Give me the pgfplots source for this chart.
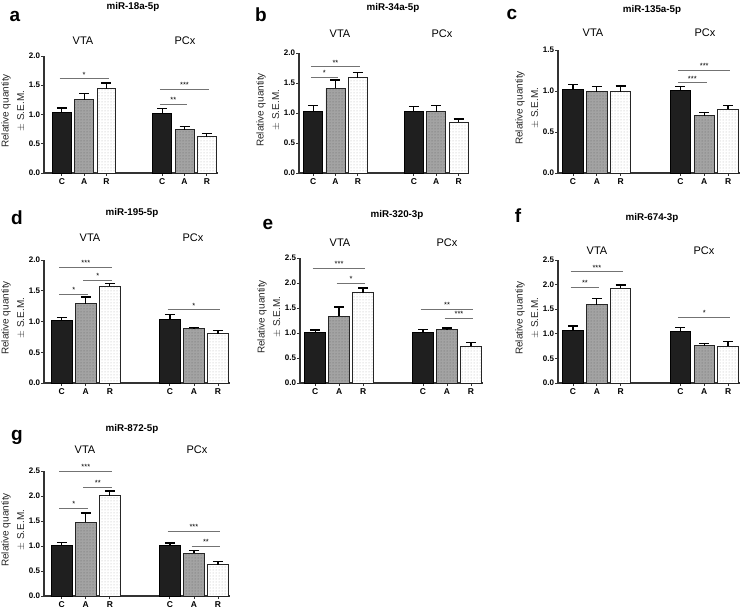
\documentclass[border=0pt]{standalone}
\usepackage{fontspec}
\setmainfont{Liberation Sans}
\usepackage{pgfplots}
\pgfplotsset{compat=1.18}
\usetikzlibrary{patterns}

\pgfplotsset{
  mirbar/.style={
    scale only axis, anchor=south west,
    axis x line*=bottom, axis y line*=left,
    xmin=-0.63, xmax=7.0, ymin=0,
    xtick={0,1,2,4.5,5.5,6.5}, xticklabels={C,A,R,C,A,R},
    tick align=outside, major tick length=3pt,
    axis line style={line width=1.2pt, black!80},
    tick style={line width=0.9pt, black!80},
    xticklabel style={font=\bfseries\fontsize{8.5}{9}\selectfont, yshift=1pt},
    yticklabel style={font=\bfseries\fontsize{8}{9}\selectfont, inner xsep=0.8pt, /pgf/number format/.cd, fixed, fixed zerofill, precision=1},
    /pgf/number format/assume math mode=true,
    clip=false,
  },
  ebars/.style={
    error bars/y dir=plus, error bars/y explicit,
    error bars/error bar style={line width=1.2pt, black},
    error bars/error mark options={rotate=90, mark size=5pt, line width=1.2pt, black},
  },
  cbar/.style={ybar, bar width=0.85, bar shift=0pt, draw=black, line width=0.9pt, fill=black!88, ebars},
  abar/.style={ybar, bar width=0.85, bar shift=0pt, draw=black!85, line width=0.9pt, fill=black!36,
    postaction={pattern=dots, pattern color=black!60}, ebars},
  rbar/.style={ybar, bar width=0.85, bar shift=0pt, draw=black!85, line width=0.9pt, fill=white,
    postaction={pattern=dots, pattern color=black!30}, ebars},
}
\tikzset{sigline/.style={line width=0.8pt, black!55}}
\newcommand{\sig}[4]{\draw[sigline] (axis cs:#1-0.1,#3) -- (axis cs:#2+0.1,#3) node[midway, above, inner sep=1.2pt, black, font=\fontsize{7.5}{7.5}\selectfont] {#4};}
\newcommand{\ylab}[3]{%
  \node[rotate=90, font=\fontsize{10}{10}\selectfont, black!85] at (#1pt,-#3pt) {Relative quantity};
  \node[rotate=90, font=\fontsize{10}{10}\selectfont, black!85] at (#2pt,-#3pt) {$\pm$ S.E.M.};}
\newcommand{\heads}[9]{%
  \node[anchor=base, font=\bfseries\fontsize{19}{19}\selectfont] at (#1pt,-#2pt) {#3};
  \node[anchor=base, font=\bfseries\fontsize{9.8}{10}\selectfont] at (#4pt,-#5pt) {#6};
  \node[anchor=base, font=\fontsize{11}{11}\selectfont] at (#7pt,-#8pt) {VTA};
  \node[anchor=base, font=\fontsize{11}{11}\selectfont] at (#9pt,-#8pt) {PCx};}

\begin{document}
\begin{tikzpicture}
\useasboundingbox (0,0) rectangle (746pt,-609pt);

% ---------- a ----------
\heads{15}{22}{a}{133}{10}{miR-18a-5p}{83}{45}{185}
\ylab{6}{21}{111}
\begin{axis}[mirbar, at={(44pt,-173pt)}, width=174pt, height=117pt, xmin=-0.8, xmax=7.0, ymax=2.0, ytick={0,0.5,1,1.5,2}]
\addplot[cbar] coordinates {(0,1.03) +- (0,0.08) (4.5,1.02) +- (0,0.08)};
\addplot[abar] coordinates {(1,1.25) +- (0,0.11) (5.5,0.74) +- (0,0.05)};
\addplot[rbar] coordinates {(2,1.44) +- (0,0.10) (6.5,0.62) +- (0,0.05)};
\sig{0}{2}{1.61}{*}
\sig{4.5}{6.5}{1.43}{***}
\sig{4.5}{5.5}{1.18}{**}
\end{axis}

% ---------- b ----------
\heads{261}{22}{b}{393}{11}{miR-34a-5p}{340}{38}{442}
\ylab{261}{276}{110}
\begin{axis}[mirbar, at={(299pt,-173pt)}, width=169pt, height=120pt, xmin=-0.63, xmax=6.92, ymax=2.0, ytick={0,0.5,1,1.5,2}]
\addplot[cbar] coordinates {(0,1.03) +- (0,0.09) (4.5,1.03) +- (0,0.08)};
\addplot[abar] coordinates {(1,1.41) +- (0,0.14) (5.5,1.02) +- (0,0.10)};
\addplot[rbar] coordinates {(2,1.59) +- (0,0.08) (6.5,0.85) +- (0,0.05)};
\sig{0}{2}{1.77}{**}
\sig{0}{1}{1.60}{*}
\end{axis}

% ---------- c ----------
\heads{512}{20}{c}{652}{13}{miR-135a-5p}{593}{37}{705}
\ylab{520}{535}{108}
\begin{axis}[mirbar, at={(558pt,-173pt)}, width=182pt, height=123pt, ymax=1.5, ytick={0,0.5,1,1.5}]
\addplot[cbar] coordinates {(0,1.02) +- (0,0.06) (4.5,1.01) +- (0,0.04)};
\addplot[abar] coordinates {(1,0.99) +- (0,0.06) (5.5,0.70) +- (0,0.04)};
\addplot[rbar] coordinates {(2,0.99) +- (0,0.07) (6.5,0.78) +- (0,0.04)};
\sig{4.5}{6.5}{1.25}{***}
\sig{4.5}{5.5}{1.10}{***}
\end{axis}

% ---------- d ----------
\heads{17}{225}{d}{132}{216}{miR-195-5p}{90}{242}{193}
\ylab{6}{21}{318}
\begin{axis}[mirbar, at={(44pt,-383pt)}, width=186pt, height=123pt, xmin=-0.74, xmax=7.0, ymax=2.0, ytick={0,0.5,1,1.5,2}]
\addplot[cbar] coordinates {(0,1.01) +- (0,0.05) (4.5,1.03) +- (0,0.08)};
\addplot[abar] coordinates {(1,1.29) +- (0,0.11) (5.5,0.88) +- (0,0.02)};
\addplot[rbar] coordinates {(2,1.57) +- (0,0.05) (6.5,0.80) +- (0,0.06)};
\sig{0}{2}{1.88}{***}
\sig{1}{2}{1.67}{*}
\sig{0}{1}{1.44}{*}
\sig{4.5}{6.5}{1.19}{*}
\end{axis}

% ---------- e ----------
\heads{268}{230}{e}{397}{218}{miR-320-3p}{340}{247}{447}
\ylab{262}{277}{317}
\begin{axis}[mirbar, at={(300pt,-383pt)}, width=183pt, height=125pt, ymax=2.5, ytick={0,0.5,1,1.5,2,2.5}]
\addplot[cbar] coordinates {(0,1.01) +- (0,0.05) (4.5,1.01) +- (0,0.06)};
\addplot[abar] coordinates {(1,1.34) +- (0,0.18) (5.5,1.07) +- (0,0.03)};
\addplot[rbar] coordinates {(2,1.81) +- (0,0.09) (6.5,0.74) +- (0,0.07)};
\sig{0}{2}{2.29}{***}
\sig{1}{2}{2.00}{*}
\sig{4.5}{6.5}{1.47}{**}
\sig{5.5}{6.5}{1.29}{***}
\end{axis}

% ---------- f ----------
\heads{518}{223}{f}{652}{221}{miR-674-3p}{597}{255}{704}
\ylab{520}{535}{318}
\begin{axis}[mirbar, at={(558pt,-383pt)}, width=182pt, height=123pt, ymax=2.5, ytick={0,0.5,1,1.5,2,2.5}]
\addplot[cbar] coordinates {(0,1.06) +- (0,0.10) (4.5,1.04) +- (0,0.08)};
\addplot[abar] coordinates {(1,1.59) +- (0,0.12) (5.5,0.76) +- (0,0.05)};
\addplot[rbar] coordinates {(2,1.93) +- (0,0.06) (6.5,0.75) +- (0,0.09)};
\sig{0}{2}{2.26}{***}
\sig{0}{1}{1.94}{**}
\sig{4.5}{6.5}{1.33}{*}
\end{axis}

% ---------- g ----------
\heads{17}{440}{g}{132}{431}{miR-872-5p}{85}{453}{197}
\ylab{6}{21}{530}
\begin{axis}[mirbar, at={(44pt,-596pt)}, width=186pt, height=125pt, xmin=-0.74, xmax=7.0, ymax=2.5, ytick={0,0.5,1,1.5,2,2.5}]
\addplot[cbar] coordinates {(0,1.02) +- (0,0.05) (4.5,1.01) +- (0,0.05)};
\addplot[abar] coordinates {(1,1.48) +- (0,0.18) (5.5,0.86) +- (0,0.05)};
\addplot[rbar] coordinates {(2,2.01) +- (0,0.09) (6.5,0.63) +- (0,0.06)};
\sig{0}{2}{2.49}{***}
\sig{1}{2}{2.17}{**}
\sig{0}{1}{1.75}{*}
\sig{4.5}{6.5}{1.30}{***}
\sig{5.5}{6.5}{0.99}{**}
\end{axis}

\end{tikzpicture}
\end{document}
